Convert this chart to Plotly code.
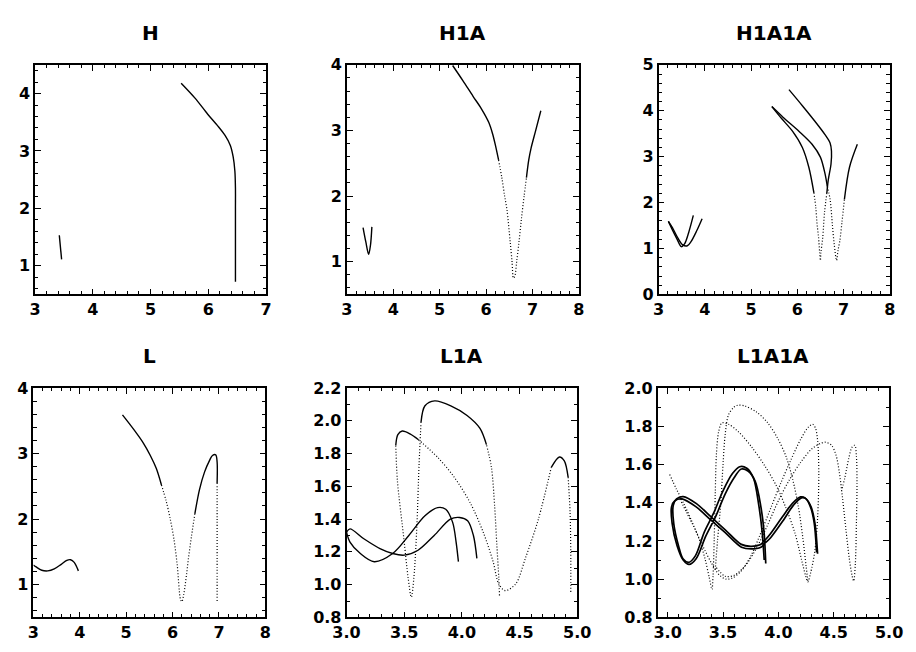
import plotly.graph_objects as go

W, H = 916, 652

# ---------------- panel H ----------------
h_main_x = [5.53, 5.77, 5.99, 6.16, 6.29, 6.38, 6.43, 6.46, 6.47, 6.47, 6.47, 6.47, 6.47]
h_main_y = [4.18, 3.92, 3.64, 3.44, 3.27, 3.10, 2.90, 2.65, 2.35, 2.00, 1.50, 1.00, 0.72]
h_small_x = [3.42, 3.46]
h_small_y = [1.53, 1.11]

# ---------------- panel H1A ----------------
h1a_a_x = [5.28, 5.50, 5.72, 5.90, 6.06, 6.14, 6.20, 6.27]
h1a_a_y = [3.99, 3.76, 3.52, 3.33, 3.12, 2.95, 2.78, 2.55]
h1a_b_x = [6.27, 6.34, 6.40, 6.45, 6.52, 6.56, 6.59, 6.62, 6.66, 6.71, 6.76, 6.82, 6.87]
h1a_b_y = [2.55, 2.28, 2.00, 1.79, 1.30, 1.00, 0.75, 0.78, 1.00, 1.30, 1.64, 2.00, 2.28]
h1a_c_x = [6.87, 6.92, 6.97, 7.07, 7.18]
h1a_c_y = [2.28, 2.55, 2.73, 3.00, 3.30]
h1a_v_x = [3.35, 3.41, 3.47, 3.51, 3.54]
h1a_v_y = [1.52, 1.30, 1.11, 1.25, 1.53]

# ---------------- panel H1A1A ----------------
h2a_a1_x = [5.82, 6.11, 6.39, 6.60, 6.71, 6.74, 6.73, 6.67, 6.64]
h2a_a1_y = [4.46, 4.11, 3.76, 3.48, 3.30, 3.12, 2.84, 2.49, 2.21]
h2a_a2_x = [6.64, 6.59, 6.55, 6.51, 6.50, 6.485, 6.46, 6.43, 6.40, 6.36]
h2a_a2_y = [2.21, 1.79, 1.23, 0.90, 0.74, 0.90, 1.25, 1.51, 1.90, 2.21]
h2a_a3_x = [6.36, 6.25, 6.11, 5.90, 5.66, 5.45]
h2a_a3_y = [2.21, 2.77, 3.20, 3.55, 3.83, 4.09]
h2a_b1_x = [5.45, 5.69, 6.04, 6.32, 6.50, 6.60, 6.65]
h2a_b1_y = [4.09, 3.86, 3.55, 3.27, 2.99, 2.63, 2.35]
h2a_b2_x = [6.65, 6.71, 6.76, 6.80, 6.85, 6.88, 6.92, 6.97, 7.02]
h2a_b2_y = [2.35, 2.07, 1.51, 1.09, 0.74, 0.95, 1.16, 1.60, 2.07]
h2a_b3_x = [7.02, 7.13, 7.30]
h2a_b3_y = [2.07, 2.77, 3.27]
h2a_v1_x = [3.21, 3.30, 3.40, 3.49, 3.56, 3.65, 3.75]
h2a_v1_y = [1.59, 1.40, 1.20, 1.04, 1.10, 1.35, 1.72]
h2a_v2_x = [3.21, 3.30, 3.42, 3.52, 3.62, 3.70, 3.82, 3.94]
h2a_v2_y = [1.59, 1.45, 1.22, 1.08, 1.06, 1.15, 1.38, 1.65]

# ---------------- panel L ----------------
l_wave_x = [3.00, 3.06, 3.18, 3.31, 3.45, 3.60, 3.72, 3.80, 3.88, 3.97]
l_wave_y = [1.30, 1.27, 1.22, 1.21, 1.24, 1.31, 1.37, 1.38, 1.34, 1.21]
l_a_x = [4.92, 5.15, 5.37, 5.52, 5.65, 5.76]
l_a_y = [3.59, 3.38, 3.16, 2.97, 2.77, 2.52]
l_b_x = [5.76, 5.86, 5.95, 6.03, 6.10, 6.17, 6.20, 6.24, 6.30, 6.34, 6.41, 6.48]
l_b_y = [2.52, 2.28, 2.00, 1.69, 1.30, 0.78, 0.74, 0.85, 1.15, 1.39, 1.75, 2.08]
l_c_x = [6.48, 6.58, 6.69, 6.80, 6.86, 6.93, 6.96, 6.96]
l_c_y = [2.08, 2.45, 2.72, 2.90, 2.97, 2.98, 2.87, 2.55]
l_d_x = [6.96, 6.96, 6.96, 6.96]
l_d_y = [2.55, 2.00, 1.40, 0.75]

# ---------------- panel L1A ----------------
l1a_s1_x = [3.00, 3.03, 3.12, 3.24, 3.40, 3.54, 3.68, 3.79, 3.86, 3.92, 3.95, 3.97]
l1a_s1_y = [1.32, 1.26, 1.19, 1.14, 1.19, 1.30, 1.42, 1.47, 1.46, 1.38, 1.26, 1.14]
l1a_s2_x = [3.00, 3.03, 3.15, 3.29, 3.40, 3.50, 3.62, 3.76, 3.90, 3.98, 4.05, 4.10, 4.13]
l1a_s2_y = [1.32, 1.34, 1.28, 1.22, 1.19, 1.18, 1.21, 1.30, 1.40, 1.41, 1.39, 1.30, 1.16]
l1a_da_x = [4.326, 4.320, 4.303, 4.284, 4.256, 4.213]
l1a_da_y = [0.934, 1.043, 1.241, 1.478, 1.716, 1.854]
l1a_db_x = [4.213, 4.157, 4.045, 3.904, 3.764, 3.680, 3.646]
l1a_db_y = [1.854, 1.953, 2.032, 2.091, 2.121, 2.091, 1.992]
l1a_dc_x = [3.646, 3.629, 3.610, 3.584, 3.562, 3.534, 3.497, 3.441, 3.427]
l1a_dc_y = [1.992, 1.735, 1.360, 1.043, 0.924, 1.043, 1.280, 1.636, 1.850]
l1a_dd_x = [3.427, 3.445, 3.483, 3.550, 3.624]
l1a_dd_y = [1.850, 1.915, 1.937, 1.920, 1.884]
l1a_de_x = [3.624, 3.792, 3.933, 4.073, 4.185, 4.270, 4.320, 4.376, 4.466, 4.551, 4.663, 4.775]
l1a_de_y = [1.884, 1.775, 1.656, 1.498, 1.320, 1.142, 1.004, 0.964, 1.004, 1.162, 1.399, 1.716]
l1a_df_x = [4.775, 4.846, 4.888, 4.921]
l1a_df_y = [1.716, 1.779, 1.755, 1.656]
l1a_dg_x = [4.921, 4.938, 4.944, 4.944]
l1a_dg_y = [1.656, 1.439, 1.200, 0.944]

# ---------------- panel L1A1A ----------------
l2a_f1_x = [4.354, 4.330, 4.295, 4.251, 4.208, 4.135, 4.047, 3.930, 3.886, 3.842, 3.754,
            3.667, 3.520, 3.389, 3.257, 3.130, 3.065, 3.035, 3.040, 3.085, 3.140, 3.193,
            3.257, 3.345, 3.433, 3.520, 3.600, 3.665, 3.725, 3.790, 3.842, 3.871, 3.886]
l2a_f1_y = [1.133, 1.293, 1.378, 1.420, 1.425, 1.386, 1.310, 1.217, 1.192, 1.167, 1.158,
            1.167, 1.243, 1.310, 1.378, 1.420, 1.410, 1.378, 1.293, 1.175, 1.100, 1.077,
            1.107, 1.226, 1.327, 1.446, 1.530, 1.576, 1.566, 1.513, 1.378, 1.243, 1.082]
l2a_f2_x = [4.345, 4.322, 4.285, 4.240, 4.200, 4.125, 4.035, 3.925, 3.880, 3.835, 3.750,
            3.665, 3.520, 3.390, 3.260, 3.140, 3.080, 3.050, 3.055, 3.100, 3.140, 3.190,
            3.250, 3.330, 3.415, 3.500, 3.585, 3.650, 3.715, 3.775, 3.822, 3.853, 3.872]
l2a_f2_y = [1.140, 1.300, 1.385, 1.425, 1.430, 1.395, 1.325, 1.235, 1.205, 1.180, 1.172,
            1.182, 1.258, 1.327, 1.395, 1.432, 1.420, 1.385, 1.290, 1.170, 1.105, 1.088,
            1.122, 1.245, 1.345, 1.462, 1.552, 1.588, 1.580, 1.528, 1.390, 1.250, 1.100]
l2a_e1_x = [3.018, 3.08, 3.15, 3.22, 3.29, 3.34, 3.375, 3.40, 3.41, 3.42, 3.43, 3.44, 3.46,
            3.49, 3.55, 3.64, 3.76, 3.88, 3.98, 4.07, 4.15, 4.21, 4.245, 4.266, 4.29, 4.33,
            4.355, 4.365, 4.355, 4.335, 4.31, 4.27, 4.20, 4.11, 4.02, 3.93, 3.84, 3.75, 3.66,
            3.58, 3.53, 3.47, 3.40, 3.32, 3.24, 3.17, 3.11]
l2a_e1_y = [1.547, 1.47, 1.39, 1.30, 1.20, 1.10, 1.01, 0.947, 1.02, 1.20, 1.45, 1.65, 1.77,
            1.817, 1.81, 1.77, 1.69, 1.59, 1.49, 1.37, 1.24, 1.10, 1.02, 0.986, 1.03, 1.15,
            1.33, 1.55, 1.72, 1.79, 1.81, 1.795, 1.73, 1.62, 1.50, 1.37, 1.24, 1.12, 1.04,
            1.005, 1.00, 1.02, 1.08, 1.17, 1.27, 1.35, 1.42]
l2a_e2_x = [3.43, 3.45, 3.48, 3.50, 3.52, 3.55, 3.60, 3.637, 3.70, 3.80, 3.90, 3.99, 4.07,
            4.13, 4.18, 4.22, 4.25, 4.266]
l2a_e2_y = [1.05, 1.20, 1.40, 1.60, 1.76, 1.86, 1.90, 1.910, 1.905, 1.875, 1.82, 1.74, 1.64,
            1.52, 1.38, 1.22, 1.07, 0.99]
l2a_e3_x = [3.44, 3.52, 3.60, 3.70, 3.80, 3.90, 4.00, 4.10, 4.20, 4.30, 4.38, 4.427, 4.48,
            4.52, 4.55, 4.58, 4.61, 4.64, 4.665, 4.68, 4.695, 4.705, 4.71, 4.705, 4.69,
            4.665, 4.635, 4.60, 4.565]
l2a_e3_y = [1.06, 1.015, 1.02, 1.07, 1.16, 1.28, 1.41, 1.52, 1.61, 1.68, 1.71, 1.716, 1.70,
            1.65, 1.56, 1.42, 1.26, 1.11, 1.02, 0.99, 1.08, 1.30, 1.50, 1.64, 1.70,
            1.69, 1.63, 1.53, 1.45]

titles = ["H", "H1A", "H1A1A", "L", "L1A", "L1A1A"]

# pixel boxes of the six frames: left, right, top, bottom
boxes = [
    (21.7, 260.0, 57.5, 294.0), (343.3, 582.7, 57.5, 294.0), (665.0, 903.3, 57.5, 294.0),
    (20.0, 259.3, 390.3, 626.7), (343.0, 581.0, 390.3, 626.7), (664.0, 902.7, 390.3, 626.7),
]
# axis scales: x range, x major, x minor, y range, y major, y minor, label format
scales = [
    ([3, 7], 1, 0.2, [0.5, 4.5], 1, 0.2, "d"),
    ([3, 8], 1, 0.2, [0.5, 4.0], 1, 0.2, "d"),
    ([3, 8], 1, 0.2, [0.0, 5.0], 1, 0.2, "d"),
    ([3, 8], 1, 0.2, [0.5, 4.0], 1, 0.2, "d"),
    ([3, 5], 0.5, 0.1, [0.8, 2.2], 0.2, 0.1, ".1f"),
    ([2.91, 5], 0.5, 0.1, [0.8, 2.0], 0.2, 0.1, ".1f"),
]

SOLID = dict(color="black", width=1.4)
THICK = dict(color="black", width=1.7)
DOTTED = dict(color="black", width=1.2, dash="1px,2px")

# (panel, x, y, style)
curves = [
    (1, h_main_x, h_main_y, SOLID), (1, h_small_x, h_small_y, SOLID),
    (2, h1a_a_x, h1a_a_y, SOLID), (2, h1a_b_x, h1a_b_y, DOTTED), (2, h1a_c_x, h1a_c_y, SOLID),
    (2, h1a_v_x, h1a_v_y, SOLID),
    (3, h2a_a1_x, h2a_a1_y, SOLID), (3, h2a_a2_x, h2a_a2_y, DOTTED), (3, h2a_a3_x, h2a_a3_y, SOLID),
    (3, h2a_b1_x, h2a_b1_y, SOLID), (3, h2a_b2_x, h2a_b2_y, DOTTED), (3, h2a_b3_x, h2a_b3_y, SOLID),
    (3, h2a_v1_x, h2a_v1_y, SOLID), (3, h2a_v2_x, h2a_v2_y, SOLID),
    (4, l_wave_x, l_wave_y, SOLID), (4, l_a_x, l_a_y, SOLID), (4, l_b_x, l_b_y, DOTTED),
    (4, l_c_x, l_c_y, SOLID), (4, l_d_x, l_d_y, DOTTED),
    (5, l1a_s1_x, l1a_s1_y, SOLID), (5, l1a_s2_x, l1a_s2_y, SOLID),
    (5, l1a_da_x, l1a_da_y, DOTTED), (5, l1a_db_x, l1a_db_y, SOLID), (5, l1a_dc_x, l1a_dc_y, DOTTED),
    (5, l1a_dd_x, l1a_dd_y, SOLID), (5, l1a_de_x, l1a_de_y, DOTTED), (5, l1a_df_x, l1a_df_y, SOLID),
    (5, l1a_dg_x, l1a_dg_y, DOTTED),
    (6, l2a_e1_x, l2a_e1_y, DOTTED), (6, l2a_e2_x, l2a_e2_y, DOTTED), (6, l2a_e3_x, l2a_e3_y, DOTTED),
    (6, l2a_f1_x, l2a_f1_y, THICK), (6, l2a_f2_x, l2a_f2_y, THICK),
]

fig = go.Figure()
for panel, xs, ys, style in curves:
    sfx = "" if panel == 1 else str(panel)
    fig.add_trace(go.Scatter(
        x=xs, y=ys, mode="lines", line=dict(shape="spline", smoothing=0.9, **style),
        xaxis="x" + sfx, yaxis="y" + sfx, showlegend=False, hoverinfo="skip"))

tick_font = dict(family="DejaVu Sans, sans-serif", size=16, color="black", weight="bold")
title_font = dict(family="DejaVu Sans, sans-serif", size=20, color="black", weight="bold")
layout = dict(width=W, height=H, margin=dict(l=0, r=0, t=0, b=0),
              paper_bgcolor="white", plot_bgcolor="white", showlegend=False)
annotations = []
for i, ((left, right, top, bottom), (xr, xd, xm, yr, yd, ym, fmt), title) in enumerate(
        zip(boxes, scales, titles)):
    n = i + 1
    sfx = "" if n == 1 else str(n)
    common = dict(showline=True, linecolor="black", linewidth=1.6, mirror="allticks",
                  ticks="inside", ticklen=6, tickwidth=1.3, tickcolor="black",
                  showgrid=False, zeroline=False, tickfont=tick_font, fixedrange=True)
    minor = dict(tick0=0, ticks="inside", ticklen=3.5, tickwidth=1.1, tickcolor="black",
                 showgrid=False)
    layout["xaxis" + sfx] = dict(
        common, domain=[left / W, right / W], range=xr, tick0=0, dtick=xd,
        tickformat=fmt, anchor="y" + sfx, minor=dict(minor, dtick=xm))
    layout["yaxis" + sfx] = dict(
        common, domain=[1 - bottom / H, 1 - top / H], range=yr, tick0=0, dtick=yd,
        tickformat=fmt, anchor="x" + sfx, minor=dict(minor, dtick=ym))
    annotations.append(dict(
        text=title, xref="paper", yref="paper", x=(left + right) / 2 / W,
        y=1 - (top - 33) / H, xanchor="center", yanchor="middle", showarrow=False,
        font=title_font))

layout["annotations"] = annotations
fig.update_layout(**layout)
fig.write_html("out.html")
